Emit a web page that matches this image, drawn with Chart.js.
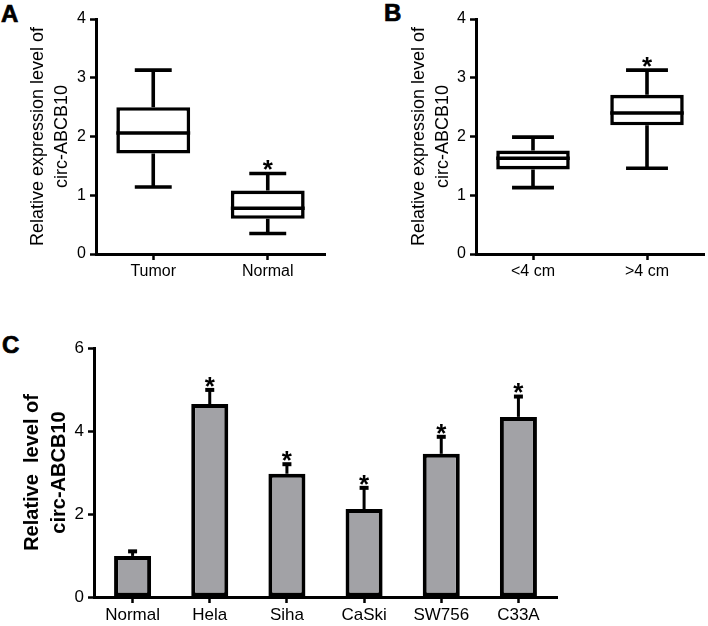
<!DOCTYPE html>
<html>
<head>
<meta charset="utf-8">
<script src="https://cdn.jsdelivr.net/npm/chart.js@4.4.1/dist/chart.umd.min.js"></script>
<style>
    body { margin: 0; background: #fff; width: 708px; height: 626px; position: relative; overflow: hidden; }
    canvas { position: absolute; }
    .panel-letter { position: absolute; font: bold 24px 'Liberation Sans', Arial, sans-serif; line-height: 1; color: #000; -webkit-text-stroke: 0.7px #000; }
</style>
</head>
<body>
<div class="panel-letter" style="left:1px; top:2px;">A</div>
<div class="panel-letter" style="left:384px; top:1px;">B</div>
<div class="panel-letter" style="left:2px; top:333px;">C</div>
<canvas id="chart-a" width="354" height="290" style="left:0; top:0;"></canvas>
<canvas id="chart-b" width="354" height="290" style="left:354px; top:0;"></canvas>
<canvas id="chart-c" width="708" height="306" style="left:0; top:320px;"></canvas>
<script>
// Panel A: tumor vs normal tissue (box plot).
const A_LABELS = ['Tumor', 'Normal'];
const A_MIN = [1.14, 0.35];
const A_Q1 = [1.71, 0.60];
const A_MED = [2.06, 0.78];
const A_Q3 = [2.50, 1.08];
const A_MAX = [3.13, 1.37];
const A_STAR = [false, true];

// Panel B: tumor size (box plot).
const B_LABELS = ['<4 cm', '>4 cm'];
const B_MIN = [1.13, 1.46];
const B_Q1 = [1.44, 2.19];
const B_MED = [1.63, 2.40];
const B_Q3 = [1.76, 2.71];
const B_MAX = [1.99, 3.13];
const B_STAR = [false, true];

// Panel C: cell lines (mean + SD).
const C_LABELS = ['Normal', 'Hela', 'Siha', 'CaSki', 'SW756', 'C33A'];
const C_MEAN = [0.99, 4.65, 2.97, 2.12, 3.45, 4.34];
const C_SD = [0.11, 0.34, 0.23, 0.51, 0.41, 0.49];
const C_STAR = [false, true, true, true, true, true];

const FONT = "'Liberation Sans', Arial, sans-serif";
Chart.defaults.color = '#000';
Chart.defaults.font.family = FONT;

function draw_star(ctx, x, top) {
    ctx.font = `bold 26px ${FONT}`;
    ctx.textAlign = 'center';
    ctx.textBaseline = 'alphabetic';
    ctx.fillStyle = '#000';
    ctx.fillText('*', x, top - 10 + 0.57 * 26);
}

// Whiskers, medians and stars on top of the floating Q1-Q3 bars.
const boxWhiskers = {
    id: 'boxWhiskers',
    afterDatasetsDraw(chart, args, opts) {
        const ctx = chart.ctx;
        const y = chart.scales.y;
        const meta = chart.getDatasetMeta(0);
        ctx.save();
        ctx.strokeStyle = '#000';
        ctx.lineWidth = 3.6;
        meta.data.forEach((bar, i) => {
            const half = bar.width / 2;
            const cap = half * opts.cap;
            const yMin = y.getPixelForValue(opts.min[i]);
            const yQ1 = y.getPixelForValue(opts.q1[i]);
            const yMed = y.getPixelForValue(opts.med[i]);
            const yQ3 = y.getPixelForValue(opts.q3[i]);
            const yMax = y.getPixelForValue(opts.max[i]);
            ctx.beginPath();
            ctx.moveTo(bar.x, yQ3); ctx.lineTo(bar.x, yMax);
            ctx.moveTo(bar.x - cap, yMax); ctx.lineTo(bar.x + cap, yMax);
            ctx.moveTo(bar.x, yQ1); ctx.lineTo(bar.x, yMin);
            ctx.moveTo(bar.x - cap, yMin); ctx.lineTo(bar.x + cap, yMin);
            ctx.moveTo(bar.x - half, yMed); ctx.lineTo(bar.x + half, yMed);
            ctx.stroke();
            if (opts.star[i]) {
                draw_star(ctx, bar.x, yMax);
            }
        });
        ctx.restore();
    }
};

// Upper error bars and stars for the bar chart.
const errorBars = {
    id: 'errorBars',
    afterDatasetsDraw(chart, args, opts) {
        const ctx = chart.ctx;
        const y = chart.scales.y;
        const meta = chart.getDatasetMeta(0);
        ctx.save();
        ctx.strokeStyle = '#000';
        meta.data.forEach((bar, i) => {
            const top = y.getPixelForValue(opts.mean[i] + opts.sd[i]);
            ctx.lineWidth = 3;
            ctx.beginPath();
            ctx.moveTo(bar.x, bar.y);
            ctx.lineTo(bar.x, top);
            ctx.stroke();
            ctx.lineWidth = 4;
            ctx.beginPath();
            ctx.moveTo(bar.x - 4.5, top);
            ctx.lineTo(bar.x + 4.5, top);
            ctx.stroke();
            if (opts.star[i]) {
                draw_star(ctx, bar.x, top);
            }
        });
        ctx.restore();
    }
};

function x_axis(font_size, height) {
    return {
        offset: true,
        grid: {
            display: true,
            offset: false,
            drawOnChartArea: false,
            tickLength: 6,
            tickWidth: 2.5,
            tickColor: '#000',
        },
        border: { display: true, color: '#000', width: 3 },
        ticks: { font: { size: font_size }, padding: 2, maxRotation: 0, autoSkip: false },
        afterFit: (scale) => { scale.height = height; },
    };
}

function y_axis(max, step, font_size, width, title) {
    return {
        min: 0,
        max: max,
        grid: {
            display: true,
            drawOnChartArea: false,
            tickLength: 6,
            tickWidth: 2.5,
            tickColor: '#000',
        },
        border: { display: true, color: '#000', width: 3 },
        ticks: { stepSize: step, font: { size: font_size }, padding: 4 },
        title: title,
        afterFit: (scale) => { scale.width = width; },
    };
}

function box_chart(id, labels, q1, q3, whiskers, title, width, padding) {
    return new Chart(document.getElementById(id), {
        type: 'bar',
        data: {
            labels: labels,
            datasets: [{
                data: q1.map((v, i) => [v, q3[i]]),
                backgroundColor: '#fff',
                borderColor: '#000',
                borderWidth: 3.6,
                borderSkipped: false,
                barPercentage: 0.645,
                categoryPercentage: 1,
            }],
        },
        options: {
            responsive: false,
            animation: false,
            layout: { padding: padding },
            plugins: {
                legend: { display: false },
                tooltip: { enabled: false },
                boxWhiskers: whiskers,
            },
            scales: {
                x: x_axis(16, 36),
                y: y_axis(4, 1, 16, width, title),
            },
        },
        plugins: [boxWhiskers],
    });
}

box_chart('chart-a', A_LABELS, A_Q1, A_Q3,
    { min: A_MIN, q1: A_Q1, med: A_MED, q3: A_Q3, max: A_MAX, star: A_STAR, cap: 0.5 },
    {
        display: true,
        text: ['Relative expression level of', 'circ-ABCB10'],
        font: { size: 18, lineHeight: 1.33 },
        padding: { top: 26, bottom: 0 },
    },
    96, { top: 19, right: 29 });

box_chart('chart-b', B_LABELS, B_Q1, B_Q3,
    { min: B_MIN, q1: B_Q1, med: B_MED, q3: B_Q3, max: B_MAX, star: B_STAR, cap: 0.57 },
    {
        display: true,
        text: ['Relative expression level of', 'circ-ABCB10'],
        font: { size: 18, lineHeight: 1.33 },
        padding: { top: 53, bottom: 0 },
    },
    122, { top: 19, right: 4 });

new Chart(document.getElementById('chart-c'), {
    type: 'bar',
    data: {
        labels: C_LABELS,
        datasets: [{
            data: C_MEAN,
            backgroundColor: '#a2a2a6',
            borderColor: '#000',
            borderWidth: 4,
            borderSkipped: false,
            barPercentage: 0.48,
            categoryPercentage: 1,
        }],
    },
    options: {
        responsive: false,
        animation: false,
        layout: { padding: { top: 28, right: 151 } },
        plugins: {
            legend: { display: false },
            tooltip: { enabled: false },
            errorBars: { mean: C_MEAN, sd: C_SD, star: C_STAR },
        },
        scales: {
            x: x_axis(17, 29),
            y: y_axis(6, 2, 17, 94, {
                display: true,
                text: ['Relative  level of', 'circ-ABCB10'],
                font: { size: 20, weight: 'bold', lineHeight: 1.35 },
                padding: { top: 18.5, bottom: 0 },
            }),
        },
    },
    plugins: [errorBars],
});
</script>
</body>
</html>
